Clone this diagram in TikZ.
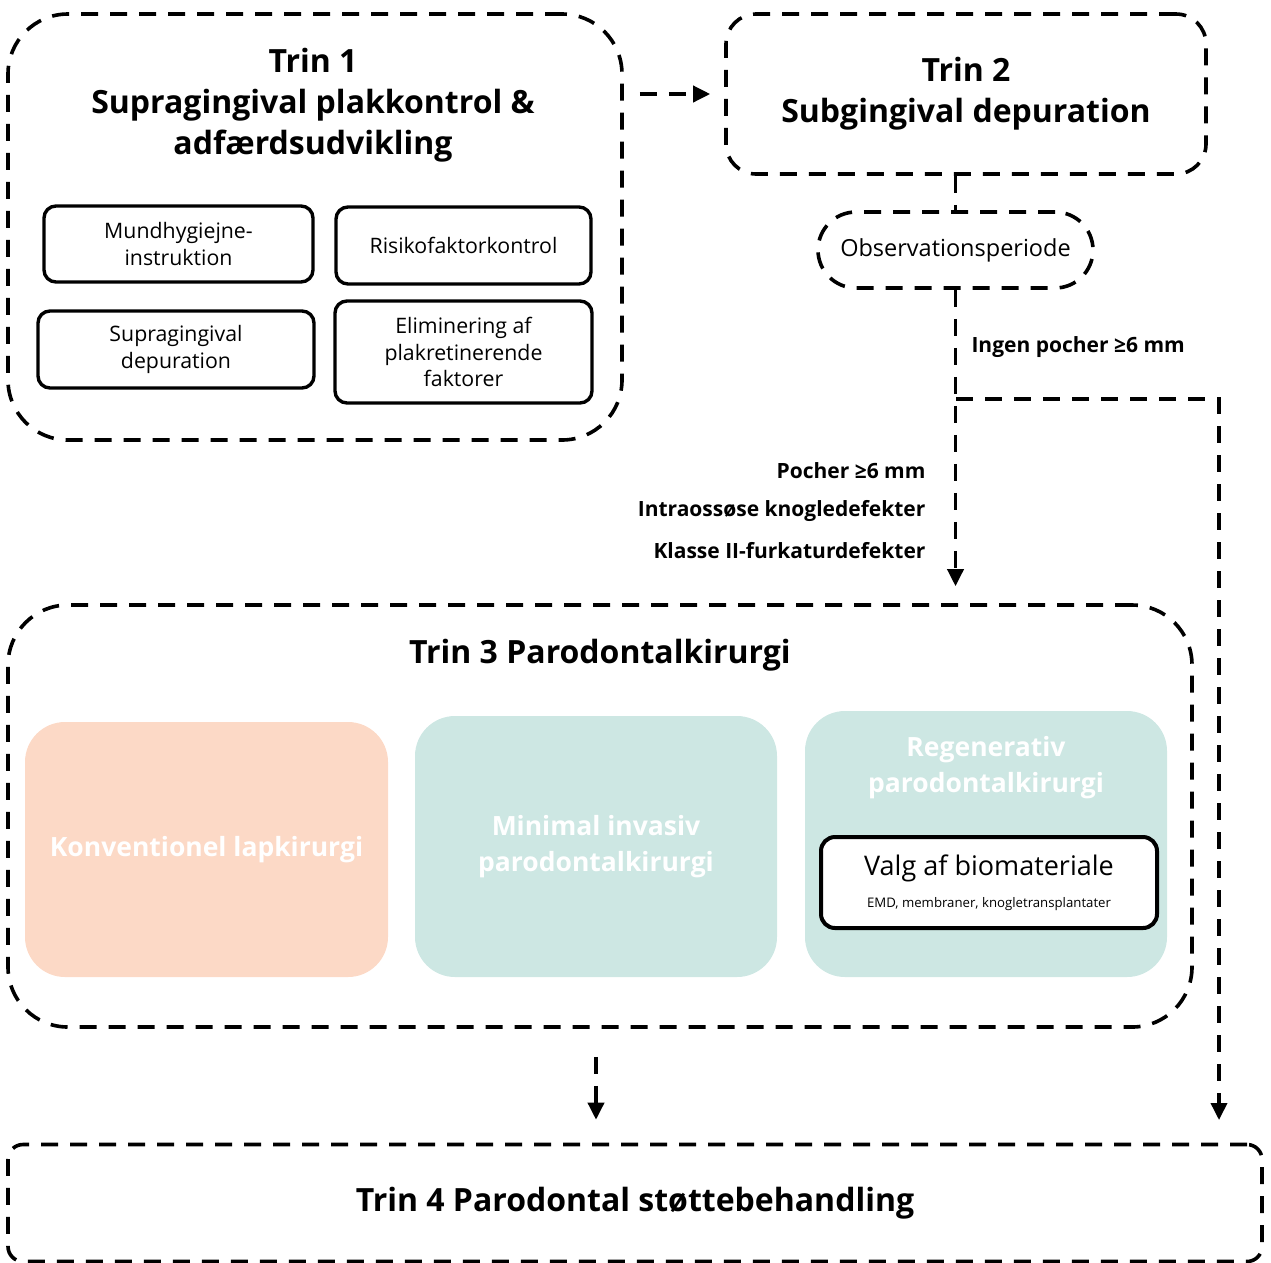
\documentclass[tikz,border=0pt]{standalone}
\usepackage{fontspec}
\setmainfont{Open Sans}
\usetikzlibrary{arrows.meta}
\definecolor{peach}{HTML}{FCD9C6}
\definecolor{mint}{HTML}{CDE7E3}

\begin{document}
\begin{tikzpicture}[x=1pt,y=-1pt,
  dashbox/.style={draw,line width=3.6pt,dash pattern=on 17pt off 12pt,rounded corners=#1},
  itembox/.style={draw,line width=3.4pt,rounded corners=12pt,align=center,
    font=\fontsize{21.3}{26.5}\selectfont},
  colbox/.style={fill=#1,rounded corners=40pt,text=white,align=center,
    font=\fontsize{26.5}{36}\bfseries\selectfont},
  title/.style={align=center,font=\fontsize{32}{41}\bfseries\selectfont},
  cond/.style={font=\fontsize{21}{24}\bfseries\selectfont},
  dline/.style={line width=3.6pt,dash pattern=on 17pt off 12pt},
  flow/.style={dline,-{Triangle[length=17pt,width=16pt]}}]
  \useasboundingbox (0,0) rectangle (1271,1262);

  \node[dashbox=60pt,minimum width=614pt,minimum height=426pt] (t1) at (315,227) {};
  \node[title] (t1title) at (313,105) {Trin 1\\Supragingival plakkontrol \&\\adfærdsudvikling};
  \node[itembox,minimum width=269pt,minimum height=76pt] (mund) at (178.5,244) {Mundhygiejne-\\instruktion};
  \node[itembox,minimum width=255pt,minimum height=77pt] (risk) at (463.5,245.5) {Risikofaktorkontrol};
  \node[itembox,minimum width=276pt,minimum height=77pt] (supra) at (176,349.5) {Supragingival\\depuration};
  \node[itembox,minimum width=257pt,minimum height=102pt] (elim) at (463.5,352) {Eliminering af\\plakretinerende\\faktorer};

  \node[dashbox=30pt,minimum width=480pt,minimum height=160pt,title] (t2) at (966,94) {Trin 2\\Subgingival depuration};
  \node[dashbox=38pt,minimum width=275pt,minimum height=76pt,font=\fontsize{23.5}{26}\selectfont] (obs) at (955.5,250) {Observationsperiode};

  \node[dashbox=60pt,minimum width=1184pt,minimum height=422pt] (t3) at (600,816) {};
  \node[title] (t3title) at (600,655) {Trin 3 Parodontalkirurgi};
  \node[colbox=peach,minimum width=363pt,minimum height=255pt] (konv) at (206.5,849.5) {Konventionel lapkirurgi};
  \node[colbox=mint,minimum width=362pt,minimum height=261pt] (mini) at (596,846.5) {Minimal invasiv\\parodontalkirurgi};
  \node[colbox=mint,minimum width=362pt,minimum height=266pt] (rege) at (986,844) {};
  \node[colbox=mint,inner sep=0pt] (regetitle) at (986,768) {Regenerativ\\parodontalkirurgi};
  \node[draw,fill=white,line width=4pt,rounded corners=14pt,minimum width=336pt,minimum height=91pt,align=center,
    font=\fontsize{27}{32}\selectfont] (valg) at (989,882.5)
    {Valg af biomateriale\\{\fontsize{13.2}{16}\selectfont EMD, membraner, knogletransplantater}};

  \node[dashbox=15pt,minimum width=1254pt,minimum height=117pt,title] (t4) at (635,1203) {Trin 4 Parodontal støttebehandling};

  \node[cond,anchor=west] (ingen) at (968,347) {Ingen pocher ≥6 mm};
  \node[cond,anchor=east] (poch) at (929,471) {Pocher ≥6 mm};
  \node[cond,anchor=east] (intra) at (929,511) {Intraossøse knogledefekter};
  \node[cond,anchor=east] (klas) at (929,551) {Klasse II-furkaturdefekter};

  \coordinate (br) at (956,399);
  \coordinate (rt) at (1219,1143);

  \draw[flow,shorten <=16pt,shorten >=14pt] (t1.east |- t2.west) -- (t2.west);
  \draw[dline] (t2.south -| obs.north) -- (obs.north);
  \draw[flow,shorten >=17pt] (obs.south) -- (obs.south |- t3.north);
  \draw[flow,shorten >=23pt] (br) -| (rt);
  \draw[flow,shorten <=28pt,shorten >=23pt] (t3.south -| 596,0) -- (t4.north -| 596,0);
\end{tikzpicture}
\end{document}
